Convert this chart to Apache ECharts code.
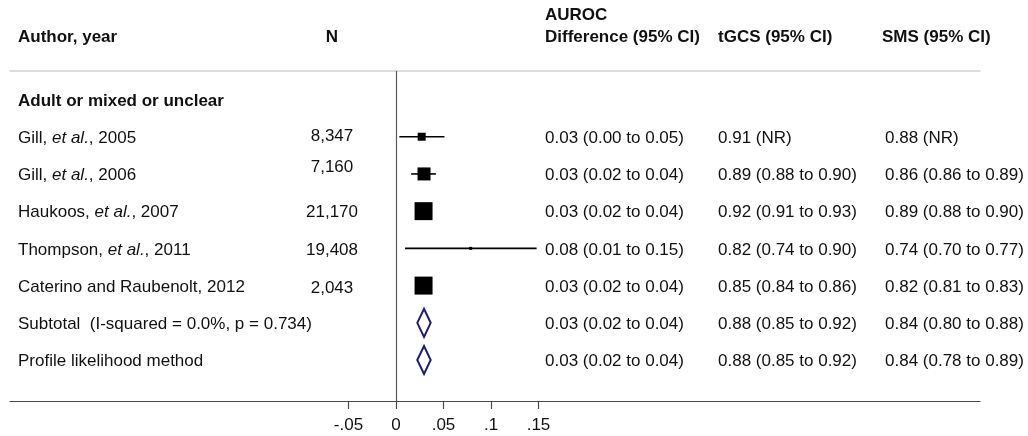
<!DOCTYPE html>
<html><head><meta charset="utf-8">
<script src="https://cdn.jsdelivr.net/npm/echarts@6/dist/echarts.min.js"></script>
<style>html,body{margin:0;padding:0;background:#fff}#c{width:1028px;height:436px}</style>
</head><body><div id="c"></div>
<script>
// ---------- data ----------
const groupLabel = 'Adult or mixed or unclear';
const studies = ['Gill, et al., 2005', 'Gill, et al., 2006', 'Haukoos, et al., 2007', 'Thompson, et al., 2011', 'Caterino and Raubenolt, 2012'];
const sampleN = ['8,347', '7,160', '21,170', '19,408', '2,043'];
const estimate = [0.027, 0.0295, 0.029, 0.0786, 0.029];
const ciLow = [0.0035, 0.016, 0.021, 0.0095, 0.021];
const ciHigh = [0.051, 0.042, 0.037, 0.148, 0.037];
const weights = [7.2, 19.0, 36.4, 1.0, 36.4];
const pooledLabels = ['Subtotal  (I-squared = 0.0%, p = 0.734)', 'Profile likelihood method'];
const pooledEst = [0.0295, 0.0295];
const pooledLow = [0.0224, 0.0224];
const pooledHigh = [0.0365, 0.0365];
const aurocText = ['0.03 (0.00 to 0.05)', '0.03 (0.02 to 0.04)', '0.03 (0.02 to 0.04)', '0.08 (0.01 to 0.15)', '0.03 (0.02 to 0.04)', '0.03 (0.02 to 0.04)', '0.03 (0.02 to 0.04)'];
const tgcsText = ['0.91 (NR)', '0.89 (0.88 to 0.90)', '0.92 (0.91 to 0.93)', '0.82 (0.74 to 0.90)', '0.85 (0.84 to 0.86)', '0.88 (0.85 to 0.92)', '0.88 (0.85 to 0.92)'];
const smsText = ['0.88 (NR)', '0.86 (0.86 to 0.89)', '0.89 (0.88 to 0.90)', '0.74 (0.70 to 0.77)', '0.82 (0.81 to 0.83)', '0.84 (0.80 to 0.88)', '0.84 (0.78 to 0.89)'];
const tickValues = [-0.05, 0, 0.05, 0.1, 0.15];
const tickLabels = ['-.05', '0', '.05', '.1', '.15'];
const headers = { author: 'Author, year', n: 'N', auroc1: 'AUROC', auroc2: 'Difference (95% CI)', tgcs: 'tGCS (95% CI)', sms: 'SMS (95% CI)' };

// ---------- layout ----------
const FONT = '"Liberation Sans", Arial, sans-serif';
const FS = 17;
const TXT = '#111';
const X0PX = 396, PX_PER_UNIT = 950;
const GRID_L = 10, GRID_R = 980, GRID_T = 71, GRID_B = 401;
const xMin = (GRID_L - X0PX) / PX_PER_UNIT, xMax = (GRID_R - X0PX) / PX_PER_UNIT;
const ROW0 = 99.5, ROW_H = 37.22;
const yMin = -(ROW0 - GRID_T) / ROW_H, yMax = (GRID_B - ROW0) / ROW_H;
const COL = { author: 18, n: 332, auroc: 545, tgcs: 718, sms: 885 };
const TEXT_DY = 1.5;
const nShift = [-2, -8, 0, 0, 1];
const BOX_K = 2.98;
const DIAMOND_HALF_H = 14;

const rowCount = 1 + studies.length + pooledLabels.length;
const textRows = [];
for (let r = 0; r < rowCount; r++) textRows.push([0, r]);

function richify(s) { return s.replace('et al.', '{i|et al.}'); }
function txt(text, x, y, opt) {
  opt = opt || {};
  const style = {
    text: text, x: 0, y: 0,
    fontSize: FS, fontFamily: FONT, fontWeight: opt.bold ? 'bold' : 'normal',
    fill: TXT, align: opt.align || 'left', verticalAlign: 'middle',
    textAlign: opt.align || 'left', textVerticalAlign: 'middle'
  };
  if (opt.rich) style.rich = { i: { fontStyle: 'italic', fontSize: FS, fontFamily: FONT, fill: TXT } };
  return { type: 'text', x: x, y: y, style: style };
}

const chart = echarts.init(document.getElementById('c'), null, { renderer: 'canvas' });
chart.setOption({
  animation: false,
  backgroundColor: '#fff',
  grid: { left: GRID_L, top: GRID_T, width: GRID_R - GRID_L, height: GRID_B - GRID_T, containLabel: false, outerBoundsMode: 'none' },
  xAxis: [{
    type: 'value', position: 'bottom', min: xMin, max: xMax,
    axisLine: { show: true, onZero: false, lineStyle: { color: '#4a4a4a', width: 1.2 } },
    axisTick: { show: true, customValues: tickValues, length: 8, lineStyle: { color: '#4a4a4a', width: 1.2 } },
    axisLabel: {
      show: true, customValues: tickValues, margin: 16, color: TXT, fontSize: FS, fontFamily: FONT,
      formatter: function (v) { const i = tickValues.findIndex(t => Math.abs(t - v) < 1e-9); return i >= 0 ? tickLabels[i] : ''; }
    },
    splitLine: { show: false }
  }, {
    type: 'value', position: 'top', min: xMin, max: xMax,
    axisLine: { show: true, onZero: false, lineStyle: { color: '#d2d2d2', width: 1.5 } },
    axisTick: { show: false }, axisLabel: { show: false }, splitLine: { show: false }
  }],
  yAxis: { type: 'value', inverse: true, min: yMin, max: yMax, show: false },
  graphic: [
    txt(headers.author, COL.author, 37, { bold: true }),
    txt(headers.n, COL.n, 37, { bold: true, align: 'center' }),
    txt(headers.auroc1, COL.auroc, 15, { bold: true }),
    txt(headers.auroc2, COL.auroc, 37, { bold: true }),
    txt(headers.tgcs, COL.tgcs, 37, { bold: true }),
    txt(headers.sms, 882, 37, { bold: true })
  ].map(g => Object.assign(g, { silent: true })),
  series: [
    {
      type: 'custom', name: 'ci', coordinateSystem: 'cartesian2d', clip: false, z: 2,
      data: studies.map((s, i) => [ciLow[i], ciHigh[i], i + 1]),
      encode: { x: [0, 1], y: 2 },
      renderItem: function (params, api) {
        const p1 = api.coord([api.value(0), api.value(2)]);
        const p2 = api.coord([api.value(1), api.value(2)]);
        return { type: 'line', shape: { x1: p1[0], y1: p1[1], x2: p2[0], y2: p2[1] }, style: { stroke: '#000', lineWidth: 1.6 } };
      }
    },
    {
      type: 'scatter', name: 'est', z: 3, symbol: 'rect',
      data: studies.map((s, i) => [estimate[i], i + 1, weights[i]]),
      symbolSize: function (v) { return BOX_K * Math.sqrt(v[2]); },
      itemStyle: { color: '#000', opacity: 1 },
      markLine: {
        silent: true, symbol: ['none', 'none'], label: { show: false },
        lineStyle: { color: '#5a5a5a', width: 1.2, type: 'solid' },
        data: [{ xAxis: 0 }]
      }
    },
    {
      type: 'custom', name: 'pooled', coordinateSystem: 'cartesian2d', clip: false, z: 3,
      data: pooledLabels.map((s, i) => [pooledLow[i], pooledEst[i], pooledHigh[i], studies.length + 1 + i]),
      encode: { x: [0, 1, 2], y: 3 },
      renderItem: function (params, api) {
        const r = api.value(3);
        const pl = api.coord([api.value(0), r]);
        const pc = api.coord([api.value(1), r]);
        const ph = api.coord([api.value(2), r]);
        return {
          type: 'polygon',
          shape: { points: [pl, [pc[0], pc[1] - DIAMOND_HALF_H], ph, [pc[0], pc[1] + DIAMOND_HALF_H]] },
          style: { stroke: '#1c1c78', lineWidth: 2, fill: '#fff' }
        };
      }
    },
    {
      type: 'custom', name: 'table', coordinateSystem: 'cartesian2d', clip: false, z: 4, silent: true,
      data: textRows, encode: { x: 0, y: 1 },
      renderItem: function (params, api) {
        const r = api.value(1);
        const y = api.coord([0, r])[1] + TEXT_DY;
        const i = params.dataIndex;
        const ch = [];
        if (i === 0) {
          ch.push(txt(groupLabel, COL.author, y, { bold: true }));
        } else {
          const k = i - 1;
          if (k < studies.length) {
            ch.push(txt(richify(studies[k]), COL.author, y, { rich: true }));
            ch.push(txt(sampleN[k], COL.n, y + nShift[k], { align: 'center' }));
          } else {
            ch.push(txt(pooledLabels[k - studies.length], COL.author, y));
          }
          ch.push(txt(aurocText[k], COL.auroc, y));
          ch.push(txt(tgcsText[k], COL.tgcs, y));
          ch.push(txt(smsText[k], COL.sms, y));
        }
        return { type: 'group', children: ch };
      }
    }
  ]
});
</script></body></html>
